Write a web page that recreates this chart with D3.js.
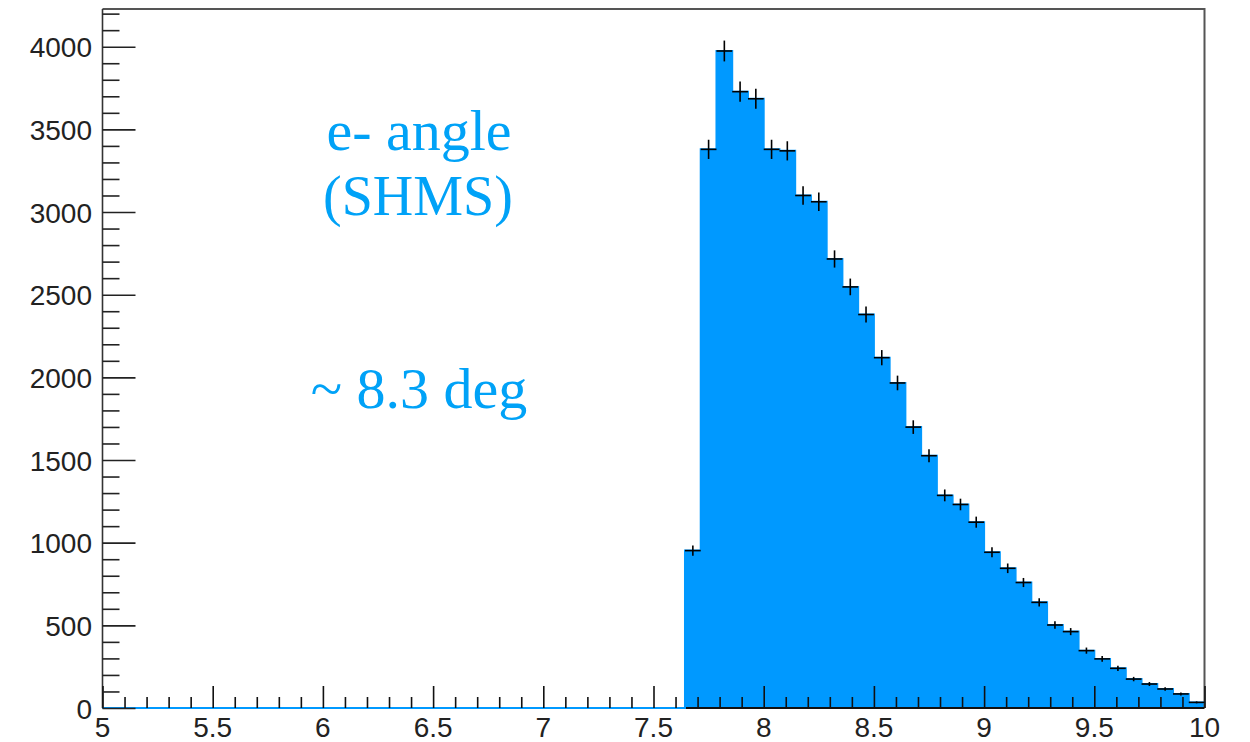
<!DOCTYPE html>
<html>
<head>
<meta charset="utf-8">
<script src="https://cdn.jsdelivr.net/npm/d3@7"></script>
<style>
  html, body { margin: 0; padding: 0; background: #fff; }
  svg { display: block; }
</style>
</head>
<body>
<svg id="chart" width="1250" height="742"></svg>
<script>
// Histogram of the scattered-electron angle, 70 bins over [5, 10] deg
const xRange = [5, 10];
const nBins = 70;
const counts = [
  0, 0, 0, 0, 0, 0, 0, 0, 0, 0,
  0, 0, 0, 0, 0, 0, 0, 0, 0, 0,
  0, 0, 0, 0, 0, 0, 0, 0, 0, 0,
  0, 0, 0, 0, 0, 0, 0, 952, 3379, 3974,
  3728, 3685, 3379, 3370, 3100, 3062, 2716, 2547, 2380, 2119,
  1966, 1699, 1526, 1286, 1231, 1124, 942, 845, 759, 639,
  502, 462, 347, 297, 240, 175, 145, 115, 85, 34
];
const yMaxDisplay = 4228;

const xMajorTicks = [5, 5.5, 6, 6.5, 7, 7.5, 8, 8.5, 9, 9.5, 10];
const xTickLabels = ["5", "5.5", "6", "6.5", "7", "7.5", "8", "8.5", "9", "9.5", "10"];
const yMajorTicks = [0, 500, 1000, 1500, 2000, 2500, 3000, 3500, 4000];
const yTickLabels = ["0", "500", "1000", "1500", "2000", "2500", "3000", "3500", "4000"];

const annotations = ["e- angle", "(SHMS)", "~ 8.3 deg"];

// Layout
const frame = { left: 102.5, right: 1204.5, top: 9, bottom: 708 };
const fillColor = "#0099ff";
const textBlue = "#00a2f7";

const svg = d3.select("#chart");

const x = d3.scaleLinear().domain(xRange).range([frame.left, frame.right]);
const y = d3.scaleLinear().domain([0, yMaxDisplay]).range([frame.bottom, frame.top]);

const binW = (xRange[1] - xRange[0]) / nBins;
const bins = counts.map((v, i) => ({
  lo: xRange[0] + i * binW,
  hi: xRange[0] + (i + 1) * binW,
  v
}));

// Step outline points: two per bin
const stepPts = [];
bins.forEach(b => { stepPts.push([b.lo, b.v]); stepPts.push([b.hi, b.v]); });

// Filled histogram body
svg.append("path")
  .datum(stepPts)
  .attr("fill", fillColor)
  .attr("d", d3.area().x(d => x(d[0])).y0(y(0)).y1(d => y(d[1])));

// Frame (top and right edges)
svg.append("path")
  .attr("d", `M${frame.left},${frame.top}H${frame.right}V${frame.bottom}`)
  .attr("fill", "none")
  .attr("stroke", "#555")
  .attr("stroke-width", 2);

// Axes lines
svg.append("line")
  .attr("x1", frame.left).attr("x2", frame.left)
  .attr("y1", frame.top).attr("y2", frame.bottom)
  .attr("stroke", "#333").attr("stroke-width", 1.6);
svg.append("line")
  .attr("x1", frame.left).attr("x2", frame.right)
  .attr("y1", frame.bottom).attr("y2", frame.bottom)
  .attr("stroke", "#111").attr("stroke-width", 2);

// Histogram outline on top (shows as a blue line along empty bins)
svg.append("path")
  .datum(stepPts)
  .attr("fill", "none")
  .attr("stroke", fillColor)
  .attr("stroke-width", 2)
  .attr("d", d3.line().x(d => x(d[0])).y(d => y(d[1])));

// X axis ticks: major every 0.5, minor every 0.1
const xAxis = d3.axisBottom(x)
  .tickValues(d3.range(0, 51).map(i => xRange[0] + i * 0.1))
  .tickSizeInner(0).tickSizeOuter(0).tickFormat("");
const gx = svg.append("g").attr("transform", `translate(0,${frame.bottom})`).call(xAxis);
gx.select(".domain").remove();
gx.selectAll(".tick line")
  .attr("y2", (d, i) => (i % 5 === 0 ? -22 : -11))
  .attr("stroke", "#111").attr("stroke-width", 1.6);

svg.append("g").selectAll("text")
  .data(xMajorTicks)
  .join("text")
  .attr("x", d => x(d))
  .attr("y", 737)
  .attr("text-anchor", "middle")
  .attr("font-family", "'Liberation Sans', Arial, Helvetica, sans-serif")
  .attr("font-size", 28)
  .attr("fill", "#222")
  .text((d, i) => xTickLabels[i]);

// Y axis ticks: major every 500, minor every 100
const yAxis = d3.axisLeft(y)
  .tickValues(d3.range(0, 43).map(i => i * 100))
  .tickSizeInner(0).tickSizeOuter(0).tickFormat("");
const gy = svg.append("g").attr("transform", `translate(${frame.left},0)`).call(yAxis);
gy.select(".domain").remove();
gy.selectAll(".tick line")
  .attr("x2", (d, i) => (i % 5 === 0 ? 33 : 17))
  .attr("stroke", "#222").attr("stroke-width", 1.6);

svg.append("g").selectAll("text")
  .data(yMajorTicks)
  .join("text")
  .attr("x", 92)
  .attr("y", d => y(d) + 10.5)
  .attr("text-anchor", "end")
  .attr("font-family", "'Liberation Sans', Arial, Helvetica, sans-serif")
  .attr("font-size", 28)
  .attr("fill", "#222")
  .text((d, i) => yTickLabels[i]);

// Error crosses (sqrt(N) vertical, bin width horizontal) for filled bins
const eg = svg.append("g")
  .attr("stroke", "#000")
  .attr("stroke-width", 1.6);
const filled = bins.filter(b => b.v > 0);
eg.selectAll("line.h")
  .data(filled)
  .join("line")
  .attr("class", "h")
  .attr("x1", b => x(b.lo)).attr("x2", b => x(b.hi))
  .attr("y1", b => y(b.v)).attr("y2", b => y(b.v));
eg.selectAll("line.v")
  .data(filled)
  .join("line")
  .attr("class", "v")
  .attr("x1", b => x((b.lo + b.hi) / 2)).attr("x2", b => x((b.lo + b.hi) / 2))
  .attr("y1", b => y(b.v + Math.sqrt(b.v))).attr("y2", b => y(b.v - Math.sqrt(b.v)));

// Annotation text
const serif = "'Liberation Serif', 'Times New Roman', Times, serif";
svg.append("text")
  .attr("x", 419).attr("y", 150)
  .attr("text-anchor", "middle")
  .attr("font-family", serif).attr("font-size", 58)
  .attr("fill", textBlue)
  .text(annotations[0]);
svg.append("text")
  .attr("x", 418).attr("y", 215)
  .attr("text-anchor", "middle")
  .attr("font-family", serif).attr("font-size", 56)
  .attr("fill", textBlue)
  .text(annotations[1]);
svg.append("text")
  .attr("x", 419).attr("y", 408)
  .attr("text-anchor", "middle")
  .attr("font-family", serif).attr("font-size", 58)
  .attr("fill", textBlue)
  .text(annotations[2]);
</script>
</body>
</html>
